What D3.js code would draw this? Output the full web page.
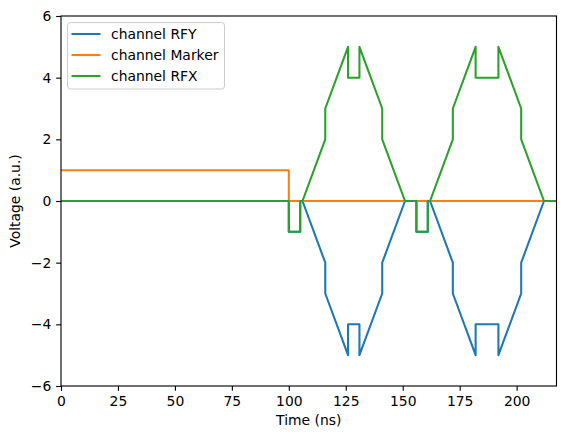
<!DOCTYPE html>
<html><head><meta charset="utf-8">
<script src="https://cdn.jsdelivr.net/npm/d3@7"></script>
<style>body{margin:0;background:#fff}svg{display:block}text{font-family:"DejaVu Sans",sans-serif;fill:#000}</style>
</head><body><svg id="c" width="565" height="438"></svg>
<script>
const timeRF = [0, 100, 100, 105, 105, 106, 116, 116, 126, 126, 131, 131, 141, 141, 151, 156, 156, 161, 161, 162, 172, 172, 182, 182, 192, 192, 202, 202, 212, 217.5];
const rfyValues = [0, 0, -1, -1, 0, 0, -2, -3, -5, -4, -4, -5, -3, -2, 0, 0, -1, -1, 0, 0, -2, -3, -5, -4, -4, -5, -3, -2, 0, 0];
const rfxValues = [0, 0, -1, -1, 0, 0, 2, 3, 5, 4, 4, 5, 3, 2, 0, 0, -1, -1, 0, 0, 2, 3, 5, 4, 4, 5, 3, 2, 0, 0];
const timeMarker = [0, 100, 100, 217.5];
const markerValues = [1, 1, 0, 0];
const xTicks = [0, 25, 50, 75, 100, 125, 150, 175, 200];
const yTicks = [-6, -4, -2, 0, 2, 4, 6];
const seriesNames = ["channel RFY", "channel Marker", "channel RFX"];
const colors = ["#1f77b4", "#ff7f0e", "#2ca02c"];

const svg = d3.select("#c");
const L = 61, R = 556.5, T = 16, B = 386;
const x = d3.scaleLinear().domain([0, 217.5]).range([L, R]);
const y = d3.scaleLinear().domain([-6, 6]).range([B, T]);

const series = [
  timeRF.map((t, i) => [t, rfyValues[i]]),
  timeMarker.map((t, i) => [t, markerValues[i]]),
  timeRF.map((t, i) => [t, rfxValues[i]])
];
svg.append("defs").append("clipPath").attr("id", "clip")
  .append("rect").attr("x", L).attr("y", T).attr("width", R - L).attr("height", B - T);
const line = d3.line().x(d => x(d[0])).y(d => y(d[1]));
const g = svg.append("g").attr("clip-path", "url(#clip)");
series.forEach((s, i) => {
  g.append("path").datum(s).attr("d", line).attr("fill", "none")
    .attr("stroke", colors[i]).attr("stroke-width", 2.08)
    .attr("stroke-linejoin", "round").attr("stroke-linecap", "square");
});

const xAxis = d3.axisBottom(x).tickValues(xTicks).tickSize(4.86).tickPadding(4.86).tickFormat(d3.format("d"));
const yAxis = d3.axisLeft(y).tickValues(yTicks).tickSize(4.86).tickPadding(4.86).tickFormat(d => d < 0 ? "\u2212" + Math.abs(d) : d);
const gx = svg.append("g").attr("transform", `translate(0,${B})`).call(xAxis);
const gy = svg.append("g").attr("transform", `translate(${L},0)`).call(yAxis);
[gx, gy].forEach(a => {
  a.select(".domain").remove();
  a.selectAll(".tick line").attr("stroke", "#000").attr("stroke-width", 1.11);
  a.selectAll(".tick text").attr("font-size", "13.9px").attr("font-family", "DejaVu Sans").attr("fill", "#000");
});
svg.append("rect").attr("x", L).attr("y", T).attr("width", R - L).attr("height", B - T)
  .attr("fill", "none").attr("stroke", "#000").attr("stroke-width", 1.11);

svg.append("text").attr("x", (L + R) / 2).attr("y", 425).attr("text-anchor", "middle")
  .attr("font-size", "13.9px").text("Time (ns)");
svg.append("text").attr("transform", `translate(20,${(T + B) / 2}) rotate(-90)`).attr("text-anchor", "middle")
  .attr("font-size", "13.9px").text("Voltage (a.u.)");

const lg = svg.append("g");
lg.append("rect").attr("x", 67.5).attr("y", 22.5).attr("width", 157).attr("height", 66.5)
  .attr("rx", 3).attr("fill", "#fff").attr("fill-opacity", 0.8).attr("stroke", "#ccc").attr("stroke-width", 1);
seriesNames.forEach((n, i) => {
  const yy = 34 + i * 21;
  lg.append("line").attr("x1", 71.5).attr("x2", 100.5).attr("y1", yy).attr("y2", yy)
    .attr("stroke", colors[i]).attr("stroke-width", 2.08);
  lg.append("text").attr("x", 111).attr("y", yy + 5).attr("font-size", "13.9px").text(n);
});
</script></body></html>
